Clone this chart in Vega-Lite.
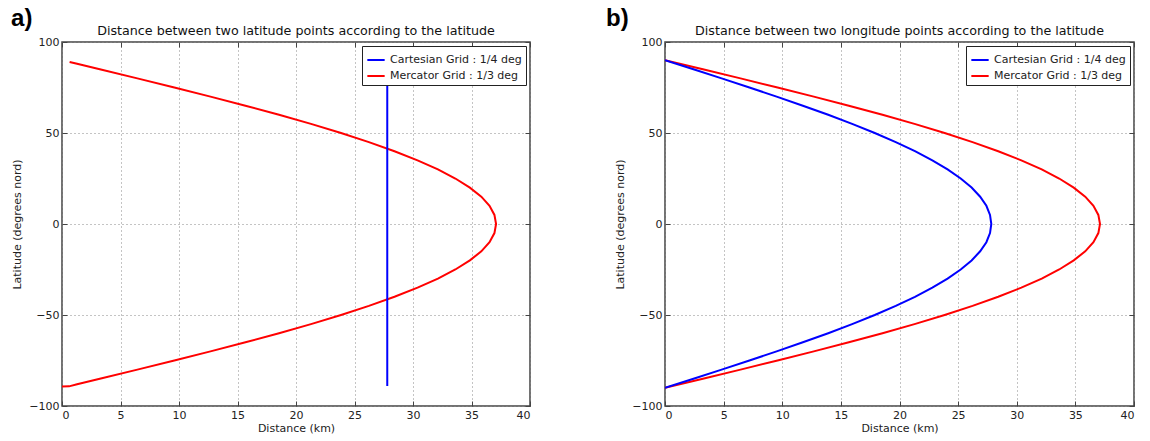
{
  "$schema": "https://vega.github.io/schema/vega-lite/v6.json",
  "background": "white",
  "padding": {"left": 11, "top": 6, "right": 5, "bottom": 5},
  "spacing": 74,
  "config": {
    "font": "DejaVu Sans",
    "view": {"stroke": "#444", "strokeWidth": 1.5},
    "axis": {
      "domain": false,
      "grid": true,
      "gridColor": "#888",
      "gridDash": [1, 3],
      "gridWidth": 1,
      "tickColor": "#444",
      "tickSize": -5,
      "labelPadding": 8,
      "labelFont": "DejaVu Sans",
      "labelFontSize": 11,
      "labelColor": "#222",
      "titleFont": "DejaVu Sans",
      "titleFontSize": 11,
      "titleFontWeight": "normal",
      "titleColor": "#222"
    },
    "legend": {
      "offset": 4,
      "strokeColor": "#222",
      "fillColor": "white",
      "padding": 4,
      "cornerRadius": 0,
      "symbolType": "stroke",
      "symbolStrokeWidth": 2,
      "symbolSize": 300,
      "labelFont": "DejaVu Sans",
      "labelFontSize": 11,
      "labelColor": "#222",
      "rowPadding": 1
    },
    "title": {"font": "DejaVu Sans", "fontSize": 12.7, "fontWeight": "normal", "color": "#111", "offset": -2}
  },
  "datasets": {
    "a": [
      {"grid": "Mercator Grid : 1/3 deg", "lat": -89.3, "dist": 0},
      {"grid": "Mercator Grid : 1/3 deg", "lat": -89.2, "dist": 0.6},
      {"grid": "Mercator Grid : 1/3 deg", "lat": -88, "dist": 1.29},
      {"grid": "Mercator Grid : 1/3 deg", "lat": -85, "dist": 3.23},
      {"grid": "Mercator Grid : 1/3 deg", "lat": -80, "dist": 6.44},
      {"grid": "Mercator Grid : 1/3 deg", "lat": -75, "dist": 9.6},
      {"grid": "Mercator Grid : 1/3 deg", "lat": -70, "dist": 12.69},
      {"grid": "Mercator Grid : 1/3 deg", "lat": -65, "dist": 15.68},
      {"grid": "Mercator Grid : 1/3 deg", "lat": -60, "dist": 18.55},
      {"grid": "Mercator Grid : 1/3 deg", "lat": -55, "dist": 21.28},
      {"grid": "Mercator Grid : 1/3 deg", "lat": -50, "dist": 23.85},
      {"grid": "Mercator Grid : 1/3 deg", "lat": -45, "dist": 26.23},
      {"grid": "Mercator Grid : 1/3 deg", "lat": -40, "dist": 28.42},
      {"grid": "Mercator Grid : 1/3 deg", "lat": -35, "dist": 30.39},
      {"grid": "Mercator Grid : 1/3 deg", "lat": -30, "dist": 32.13},
      {"grid": "Mercator Grid : 1/3 deg", "lat": -25, "dist": 33.62},
      {"grid": "Mercator Grid : 1/3 deg", "lat": -20, "dist": 34.86},
      {"grid": "Mercator Grid : 1/3 deg", "lat": -15, "dist": 35.84},
      {"grid": "Mercator Grid : 1/3 deg", "lat": -10, "dist": 36.54},
      {"grid": "Mercator Grid : 1/3 deg", "lat": -5, "dist": 36.96},
      {"grid": "Mercator Grid : 1/3 deg", "lat": 0, "dist": 37.1},
      {"grid": "Mercator Grid : 1/3 deg", "lat": 5, "dist": 36.96},
      {"grid": "Mercator Grid : 1/3 deg", "lat": 10, "dist": 36.54},
      {"grid": "Mercator Grid : 1/3 deg", "lat": 15, "dist": 35.84},
      {"grid": "Mercator Grid : 1/3 deg", "lat": 20, "dist": 34.86},
      {"grid": "Mercator Grid : 1/3 deg", "lat": 25, "dist": 33.62},
      {"grid": "Mercator Grid : 1/3 deg", "lat": 30, "dist": 32.13},
      {"grid": "Mercator Grid : 1/3 deg", "lat": 35, "dist": 30.39},
      {"grid": "Mercator Grid : 1/3 deg", "lat": 40, "dist": 28.42},
      {"grid": "Mercator Grid : 1/3 deg", "lat": 45, "dist": 26.23},
      {"grid": "Mercator Grid : 1/3 deg", "lat": 50, "dist": 23.85},
      {"grid": "Mercator Grid : 1/3 deg", "lat": 55, "dist": 21.28},
      {"grid": "Mercator Grid : 1/3 deg", "lat": 60, "dist": 18.55},
      {"grid": "Mercator Grid : 1/3 deg", "lat": 65, "dist": 15.68},
      {"grid": "Mercator Grid : 1/3 deg", "lat": 70, "dist": 12.69},
      {"grid": "Mercator Grid : 1/3 deg", "lat": 75, "dist": 9.6},
      {"grid": "Mercator Grid : 1/3 deg", "lat": 80, "dist": 6.44},
      {"grid": "Mercator Grid : 1/3 deg", "lat": 85, "dist": 3.23},
      {"grid": "Mercator Grid : 1/3 deg", "lat": 88, "dist": 1.29},
      {"grid": "Mercator Grid : 1/3 deg", "lat": 89, "dist": 0.65},
      {"grid": "Cartesian Grid : 1/4 deg", "lat": -89, "dist": 27.8},
      {"grid": "Cartesian Grid : 1/4 deg", "lat": 89, "dist": 27.8}
    ],
    "b": [
      {"grid": "Mercator Grid : 1/3 deg", "lat": -90, "dist": 0},
      {"grid": "Mercator Grid : 1/3 deg", "lat": -85, "dist": 3.23},
      {"grid": "Mercator Grid : 1/3 deg", "lat": -80, "dist": 6.44},
      {"grid": "Mercator Grid : 1/3 deg", "lat": -75, "dist": 9.6},
      {"grid": "Mercator Grid : 1/3 deg", "lat": -70, "dist": 12.69},
      {"grid": "Mercator Grid : 1/3 deg", "lat": -65, "dist": 15.68},
      {"grid": "Mercator Grid : 1/3 deg", "lat": -60, "dist": 18.55},
      {"grid": "Mercator Grid : 1/3 deg", "lat": -55, "dist": 21.28},
      {"grid": "Mercator Grid : 1/3 deg", "lat": -50, "dist": 23.85},
      {"grid": "Mercator Grid : 1/3 deg", "lat": -45, "dist": 26.23},
      {"grid": "Mercator Grid : 1/3 deg", "lat": -40, "dist": 28.42},
      {"grid": "Mercator Grid : 1/3 deg", "lat": -35, "dist": 30.39},
      {"grid": "Mercator Grid : 1/3 deg", "lat": -30, "dist": 32.13},
      {"grid": "Mercator Grid : 1/3 deg", "lat": -25, "dist": 33.62},
      {"grid": "Mercator Grid : 1/3 deg", "lat": -20, "dist": 34.86},
      {"grid": "Mercator Grid : 1/3 deg", "lat": -15, "dist": 35.84},
      {"grid": "Mercator Grid : 1/3 deg", "lat": -10, "dist": 36.54},
      {"grid": "Mercator Grid : 1/3 deg", "lat": -5, "dist": 36.96},
      {"grid": "Mercator Grid : 1/3 deg", "lat": 0, "dist": 37.1},
      {"grid": "Mercator Grid : 1/3 deg", "lat": 5, "dist": 36.96},
      {"grid": "Mercator Grid : 1/3 deg", "lat": 10, "dist": 36.54},
      {"grid": "Mercator Grid : 1/3 deg", "lat": 15, "dist": 35.84},
      {"grid": "Mercator Grid : 1/3 deg", "lat": 20, "dist": 34.86},
      {"grid": "Mercator Grid : 1/3 deg", "lat": 25, "dist": 33.62},
      {"grid": "Mercator Grid : 1/3 deg", "lat": 30, "dist": 32.13},
      {"grid": "Mercator Grid : 1/3 deg", "lat": 35, "dist": 30.39},
      {"grid": "Mercator Grid : 1/3 deg", "lat": 40, "dist": 28.42},
      {"grid": "Mercator Grid : 1/3 deg", "lat": 45, "dist": 26.23},
      {"grid": "Mercator Grid : 1/3 deg", "lat": 50, "dist": 23.85},
      {"grid": "Mercator Grid : 1/3 deg", "lat": 55, "dist": 21.28},
      {"grid": "Mercator Grid : 1/3 deg", "lat": 60, "dist": 18.55},
      {"grid": "Mercator Grid : 1/3 deg", "lat": 65, "dist": 15.68},
      {"grid": "Mercator Grid : 1/3 deg", "lat": 70, "dist": 12.69},
      {"grid": "Mercator Grid : 1/3 deg", "lat": 75, "dist": 9.6},
      {"grid": "Mercator Grid : 1/3 deg", "lat": 80, "dist": 6.44},
      {"grid": "Mercator Grid : 1/3 deg", "lat": 85, "dist": 3.23},
      {"grid": "Mercator Grid : 1/3 deg", "lat": 90, "dist": 0},
      {"grid": "Cartesian Grid : 1/4 deg", "lat": -90, "dist": 0},
      {"grid": "Cartesian Grid : 1/4 deg", "lat": -85, "dist": 2.43},
      {"grid": "Cartesian Grid : 1/4 deg", "lat": -80, "dist": 4.83},
      {"grid": "Cartesian Grid : 1/4 deg", "lat": -75, "dist": 7.2},
      {"grid": "Cartesian Grid : 1/4 deg", "lat": -70, "dist": 9.52},
      {"grid": "Cartesian Grid : 1/4 deg", "lat": -65, "dist": 11.76},
      {"grid": "Cartesian Grid : 1/4 deg", "lat": -60, "dist": 13.92},
      {"grid": "Cartesian Grid : 1/4 deg", "lat": -55, "dist": 15.96},
      {"grid": "Cartesian Grid : 1/4 deg", "lat": -50, "dist": 17.89},
      {"grid": "Cartesian Grid : 1/4 deg", "lat": -45, "dist": 19.68},
      {"grid": "Cartesian Grid : 1/4 deg", "lat": -40, "dist": 21.32},
      {"grid": "Cartesian Grid : 1/4 deg", "lat": -35, "dist": 22.8},
      {"grid": "Cartesian Grid : 1/4 deg", "lat": -30, "dist": 24.1},
      {"grid": "Cartesian Grid : 1/4 deg", "lat": -25, "dist": 25.22},
      {"grid": "Cartesian Grid : 1/4 deg", "lat": -20, "dist": 26.15},
      {"grid": "Cartesian Grid : 1/4 deg", "lat": -15, "dist": 26.88},
      {"grid": "Cartesian Grid : 1/4 deg", "lat": -10, "dist": 27.41},
      {"grid": "Cartesian Grid : 1/4 deg", "lat": -5, "dist": 27.72},
      {"grid": "Cartesian Grid : 1/4 deg", "lat": 0, "dist": 27.83},
      {"grid": "Cartesian Grid : 1/4 deg", "lat": 5, "dist": 27.72},
      {"grid": "Cartesian Grid : 1/4 deg", "lat": 10, "dist": 27.41},
      {"grid": "Cartesian Grid : 1/4 deg", "lat": 15, "dist": 26.88},
      {"grid": "Cartesian Grid : 1/4 deg", "lat": 20, "dist": 26.15},
      {"grid": "Cartesian Grid : 1/4 deg", "lat": 25, "dist": 25.22},
      {"grid": "Cartesian Grid : 1/4 deg", "lat": 30, "dist": 24.1},
      {"grid": "Cartesian Grid : 1/4 deg", "lat": 35, "dist": 22.8},
      {"grid": "Cartesian Grid : 1/4 deg", "lat": 40, "dist": 21.32},
      {"grid": "Cartesian Grid : 1/4 deg", "lat": 45, "dist": 19.68},
      {"grid": "Cartesian Grid : 1/4 deg", "lat": 50, "dist": 17.89},
      {"grid": "Cartesian Grid : 1/4 deg", "lat": 55, "dist": 15.96},
      {"grid": "Cartesian Grid : 1/4 deg", "lat": 60, "dist": 13.92},
      {"grid": "Cartesian Grid : 1/4 deg", "lat": 65, "dist": 11.76},
      {"grid": "Cartesian Grid : 1/4 deg", "lat": 70, "dist": 9.52},
      {"grid": "Cartesian Grid : 1/4 deg", "lat": 75, "dist": 7.2},
      {"grid": "Cartesian Grid : 1/4 deg", "lat": 80, "dist": 4.83},
      {"grid": "Cartesian Grid : 1/4 deg", "lat": 85, "dist": 2.43},
      {"grid": "Cartesian Grid : 1/4 deg", "lat": 90, "dist": 0}
    ]
  },
  "hconcat": [
    {
      "title": {"text": "a)", "anchor": "start", "font": "Liberation Sans", "fontSize": 24, "fontWeight": "bold", "color": "#000", "offset": -6, "dx": 0},
      "resolve": {"scale": {"color": "independent"}, "legend": {"color": "independent"}},
      "vconcat": [
        {
          "width": 468,
          "height": 364,
          "title": "Distance between two latitude points according to the latitude",
          "data": {"name": "a"},
          "resolve": {"axis": {"x": "independent", "y": "independent"}},
          "layer": [
            {
              "mark": {"type": "line", "strokeWidth": 2, "clip": true},
              "encoding": {
                "x": {"field": "dist", "type": "quantitative", "scale": {"domain": [0, 40], "nice": false}, "axis": {"title": "Distance (km)", "values": [0, 5, 10, 15, 20, 25, 30, 35, 40], "titlePadding": 2}},
                "y": {"field": "lat", "type": "quantitative", "scale": {"domain": [-100, 100], "nice": false}, "axis": {"title": "Latitude (degrees nord)", "values": [-100, -50, 0, 50, 100], "titlePadding": 6}},
                "color": {"field": "grid", "type": "nominal", "scale": {"domain": ["Cartesian Grid : 1/4 deg", "Mercator Grid : 1/3 deg"], "range": ["#0000ff", "#ff0000"]}, "legend": {"title": null, "orient": "top-right"}},
                "order": {"field": "lat", "type": "quantitative"}
              }
            },
            {
              "mark": {"type": "line", "strokeOpacity": 0},
              "encoding": {
                "x": {"field": "dist", "type": "quantitative", "axis": {"orient": "top", "labels": false, "title": null, "grid": false, "values": [0, 5, 10, 15, 20, 25, 30, 35, 40]}},
                "y": {"field": "lat", "type": "quantitative", "axis": {"orient": "right", "labels": false, "title": null, "grid": false, "values": [-100, -50, 0, 50, 100]}},
                "detail": {"field": "grid"},
                "order": {"field": "lat", "type": "quantitative"}
              }
            }
          ]
        }
      ]
    },
    {
      "title": {"text": "b)", "anchor": "start", "font": "Liberation Sans", "fontSize": 24, "fontWeight": "bold", "color": "#000", "offset": -6, "dx": -8},
      "resolve": {"scale": {"color": "independent"}, "legend": {"color": "independent"}},
      "vconcat": [
        {
          "width": 469,
          "height": 364,
          "title": "Distance between two longitude points according to the latitude",
          "data": {"name": "b"},
          "resolve": {"axis": {"x": "independent", "y": "independent"}},
          "layer": [
            {
              "mark": {"type": "line", "strokeWidth": 2, "clip": true},
              "encoding": {
                "x": {"field": "dist", "type": "quantitative", "scale": {"domain": [0, 40], "nice": false}, "axis": {"title": "Distance (km)", "values": [0, 5, 10, 15, 20, 25, 30, 35, 40], "titlePadding": 2}},
                "y": {"field": "lat", "type": "quantitative", "scale": {"domain": [-100, 100], "nice": false}, "axis": {"title": "Latitude (degrees nord)", "values": [-100, -50, 0, 50, 100], "titlePadding": 6}},
                "color": {"field": "grid", "type": "nominal", "scale": {"domain": ["Cartesian Grid : 1/4 deg", "Mercator Grid : 1/3 deg"], "range": ["#0000ff", "#ff0000"]}, "legend": {"title": null, "orient": "top-right"}},
                "order": {"field": "lat", "type": "quantitative"}
              }
            },
            {
              "mark": {"type": "line", "strokeOpacity": 0},
              "encoding": {
                "x": {"field": "dist", "type": "quantitative", "axis": {"orient": "top", "labels": false, "title": null, "grid": false, "values": [0, 5, 10, 15, 20, 25, 30, 35, 40]}},
                "y": {"field": "lat", "type": "quantitative", "axis": {"orient": "right", "labels": false, "title": null, "grid": false, "values": [-100, -50, 0, 50, 100]}},
                "detail": {"field": "grid"},
                "order": {"field": "lat", "type": "quantitative"}
              }
            }
          ]
        }
      ]
    }
  ],
  "resolve": {"scale": {"color": "independent"}, "legend": {"color": "independent"}}
}
